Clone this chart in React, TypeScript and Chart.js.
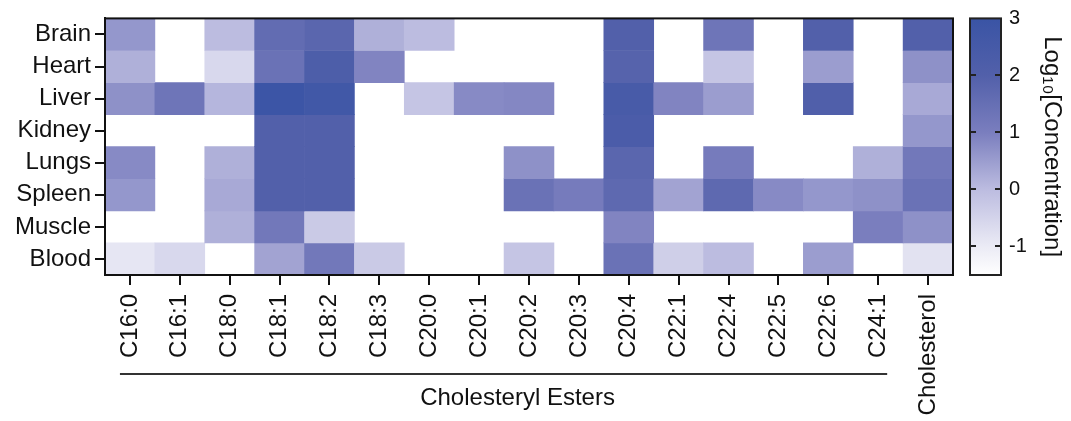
import React, { useEffect, useRef } from 'react';
import { Chart, registerables } from 'chart.js';

Chart.register(...registerables);

const columns = ['C16:0', 'C16:1', 'C18:0', 'C18:1', 'C18:2', 'C18:3', 'C20:0', 'C20:1', 'C20:2', 'C20:3', 'C20:4', 'C22:1', 'C22:4', 'C22:5', 'C22:6', 'C24:1', 'Cholesterol'];
const tissues = ['Brain', 'Heart', 'Liver', 'Kidney', 'Lungs', 'Spleen', 'Muscle', 'Blood'];

const brain = [0.6, null, 0.0, 1.6, 1.8, 0.2, 0.0, null, null, null, 2.0, null, 1.3, null, 2.0, null, 2.0];
const heart = [0.2, null, -0.6, 1.4, 2.2, 0.9, null, null, null, null, 1.9, null, -0.2, null, 0.5, null, 0.7];
const liver = [0.7, 1.3, 0.1, 2.9, 2.7, null, -0.2, 0.8, 0.85, null, 2.4, 0.9, 0.5, null, 2.1, null, 0.3];
const kidney = [null, null, null, 2.0, 2.0, null, null, null, null, null, 2.3, null, null, null, null, null, 0.6];
const lungs = [0.8, null, 0.2, 2.0, 2.0, null, null, null, 0.7, null, 1.8, null, 1.1, null, null, 0.2, 1.2];
const spleen = [0.6, null, 0.3, 2.0, 2.0, null, null, null, 1.4, 1.1, 1.7, 0.4, 1.7, 0.8, 0.6, 0.7, 1.4];
const muscle = [null, null, 0.2, 1.2, -0.3, null, null, null, null, null, 0.9, null, null, null, null, 1.0, 0.7];
const blood = [-0.9, -0.6, null, 0.4, 1.2, -0.3, null, null, -0.2, null, 1.4, -0.4, 0.0, null, 0.5, null, -0.8];

const rows = [brain, heart, liver, kidney, lungs, spleen, muscle, blood];

const colorTicks = [-1, 0, 1, 2, 3];
const colorMin = -1.5;
const colorMax = 3;
const groupLabel = 'Cholesteryl Esters';
const colorTitle = 'Log\u2081\u2080[Concentration]';

const colorStops: [number, number[]][] = [
  [-1.5, [255, 255, 255]],
  [-1, [235, 235, 245]],
  [0, [188, 188, 224]],
  [1, [122, 126, 190]],
  [2, [82, 96, 170]],
  [3, [58, 84, 165]],
];

function colorOf(v: number | null): string {
  if (v == null) return 'rgba(0,0,0,0)';
  const x = Math.max(colorMin, Math.min(colorMax, v));
  for (let i = 0; i < colorStops.length - 1; i++) {
    const [a, ca] = colorStops[i];
    const [b, cb] = colorStops[i + 1];
    if (x >= a && x <= b) {
      const t = (x - a) / (b - a);
      const c = ca.map((q, k) => Math.round(q + (cb[k] - q) * t));
      return `rgb(${c[0]},${c[1]},${c[2]})`;
    }
  }
  const c = colorStops[colorStops.length - 1][1];
  return `rgb(${c[0]},${c[1]},${c[2]})`;
}

const FONT = "'Liberation Sans', Arial, Helvetica, sans-serif";
const W = 1071;
const H = 421;
const PLOT_LEFT = 105;
const PLOT_RIGHT = 953;
const PLOT_TOP = 17;
const PLOT_BOTTOM = 275;

const decorPlugin = {
  id: 'decor',
  afterDatasetsDraw(chart: any) {
    const { ctx, chartArea } = chart;
    ctx.save();
    ctx.strokeStyle = '#111';
    ctx.lineWidth = 2;
    ctx.strokeRect(chartArea.left, chartArea.top, chartArea.right - chartArea.left, chartArea.bottom - chartArea.top);
    ctx.restore();
  },
  afterDraw(chart: any) {
    const { ctx, chartArea } = chart;
    const xs = chart.scales.x;
    const cs = chart.scales.cb;
    ctx.save();
    // colour bar
    const bx = chartArea.right + 17;
    const bw = 31;
    const top = cs.getPixelForValue(colorMax);
    const bottom = cs.getPixelForValue(colorMin);
    const grad = ctx.createLinearGradient(0, bottom, 0, top);
    colorStops.forEach(([v]) => {
      grad.addColorStop((v - colorMin) / (colorMax - colorMin), colorOf(v));
    });
    ctx.fillStyle = grad;
    ctx.fillRect(bx, top, bw, bottom - top);
    ctx.strokeStyle = '#222';
    ctx.lineWidth = 2;
    ctx.strokeRect(bx, top, bw, bottom - top);
    colorTicks.forEach((v) => {
      const y = Math.round(cs.getPixelForValue(v));
      if (v === colorMax) return;
      ctx.beginPath();
      ctx.moveTo(bx, y);
      ctx.lineTo(bx + 6, y);
      ctx.moveTo(bx + bw - 6, y);
      ctx.lineTo(bx + bw, y);
      ctx.stroke();
    });
    // group bracket line and label
    const x1 = xs.getPixelForValue(0) - 10;
    const x2 = xs.getPixelForValue(15) + 9;
    ctx.strokeStyle = '#333';
    ctx.lineWidth = 2;
    ctx.beginPath();
    ctx.moveTo(x1, 374);
    ctx.lineTo(x2, 374);
    ctx.stroke();
    ctx.fillStyle = '#111';
    ctx.font = `24px ${FONT}`;
    ctx.textAlign = 'center';
    ctx.textBaseline = 'middle';
    ctx.fillText(groupLabel, (x1 + x2) / 2 + 14, 398);
    ctx.restore();
  },
};

export default function App() {
  const ref = useRef<HTMLCanvasElement | null>(null);
  useEffect(() => {
    if (!ref.current) return;
    const datasets = rows.map((vals, r) => ({
      label: tissues[r],
      data: vals.map((v) => (v == null ? null : [r, r + 1])),
      backgroundColor: vals.map((v) => colorOf(v)),
      borderWidth: 0,
      barPercentage: 1,
      categoryPercentage: 1,
      grouped: false,
      yAxisID: 'y',
    }));
    const chart = new Chart(ref.current, {
      type: 'bar',
      data: { labels: columns, datasets: datasets as any },
      plugins: [decorPlugin],
      options: {
        animation: false,
        responsive: false,
        events: [],
        layout: { padding: { top: PLOT_TOP, left: 0, right: 0, bottom: 0 } },
        plugins: { legend: { display: false }, tooltip: { enabled: false } },
        scales: {
          x: {
            type: 'category',
            position: 'bottom',
            grid: { display: true, offset: false, drawOnChartArea: false, drawTicks: true, tickLength: 10, color: '#111', lineWidth: 2 },
            border: { display: true, color: '#111', width: 2 },
            ticks: {
              autoSkip: false,
              maxRotation: 90,
              minRotation: 90,
              padding: 9,
              color: '#111',
              font: { family: FONT, size: 24 },
            },
            afterFit(scale: any) {
              scale.height = H - PLOT_BOTTOM;
            },
          },
          y: {
            type: 'linear',
            position: 'left',
            reverse: true,
            min: 0,
            max: tissues.length,
            afterBuildTicks(scale: any) {
              scale.ticks = tissues.map((_, i) => ({ value: i + 0.5 }));
            },
            grid: { display: true, drawOnChartArea: false, drawTicks: true, tickLength: 10, color: '#111', lineWidth: 2 },
            border: { display: true, color: '#111', width: 2 },
            ticks: {
              padding: 4,
              color: '#111',
              font: { family: FONT, size: 24 },
              callback: (v: any) => tissues[Math.floor(Number(v))] ?? '',
            },
            afterFit(scale: any) {
              scale.width = PLOT_LEFT;
            },
          },
          cb: {
            type: 'linear',
            position: 'right',
            min: colorMin,
            max: colorMax,
            afterBuildTicks(scale: any) {
              scale.ticks = colorTicks.map((v) => ({ value: v }));
            },
            grid: { display: false, drawOnChartArea: false, drawTicks: true, tickLength: 56 },
            border: { display: false },
            ticks: {
              padding: 0,
              color: '#111',
              font: { family: FONT, size: 20 },
              callback: (v: any) => String(v),
            },
            title: {
              display: true,
              text: colorTitle,
              color: '#111',
              font: { family: FONT, size: 24 },
              padding: { top: 5, bottom: 0 },
            },
            afterFit(scale: any) {
              scale.width = W - PLOT_RIGHT;
            },
          },
        },
      } as any,
    });
    return () => chart.destroy();
  }, []);
  return (
    <div style={{ position: 'fixed', left: 0, top: 0, width: W, height: H, background: '#fff' }}>
      <canvas ref={ref} width={W} height={H} style={{ display: 'block' }} />
    </div>
  );
}
